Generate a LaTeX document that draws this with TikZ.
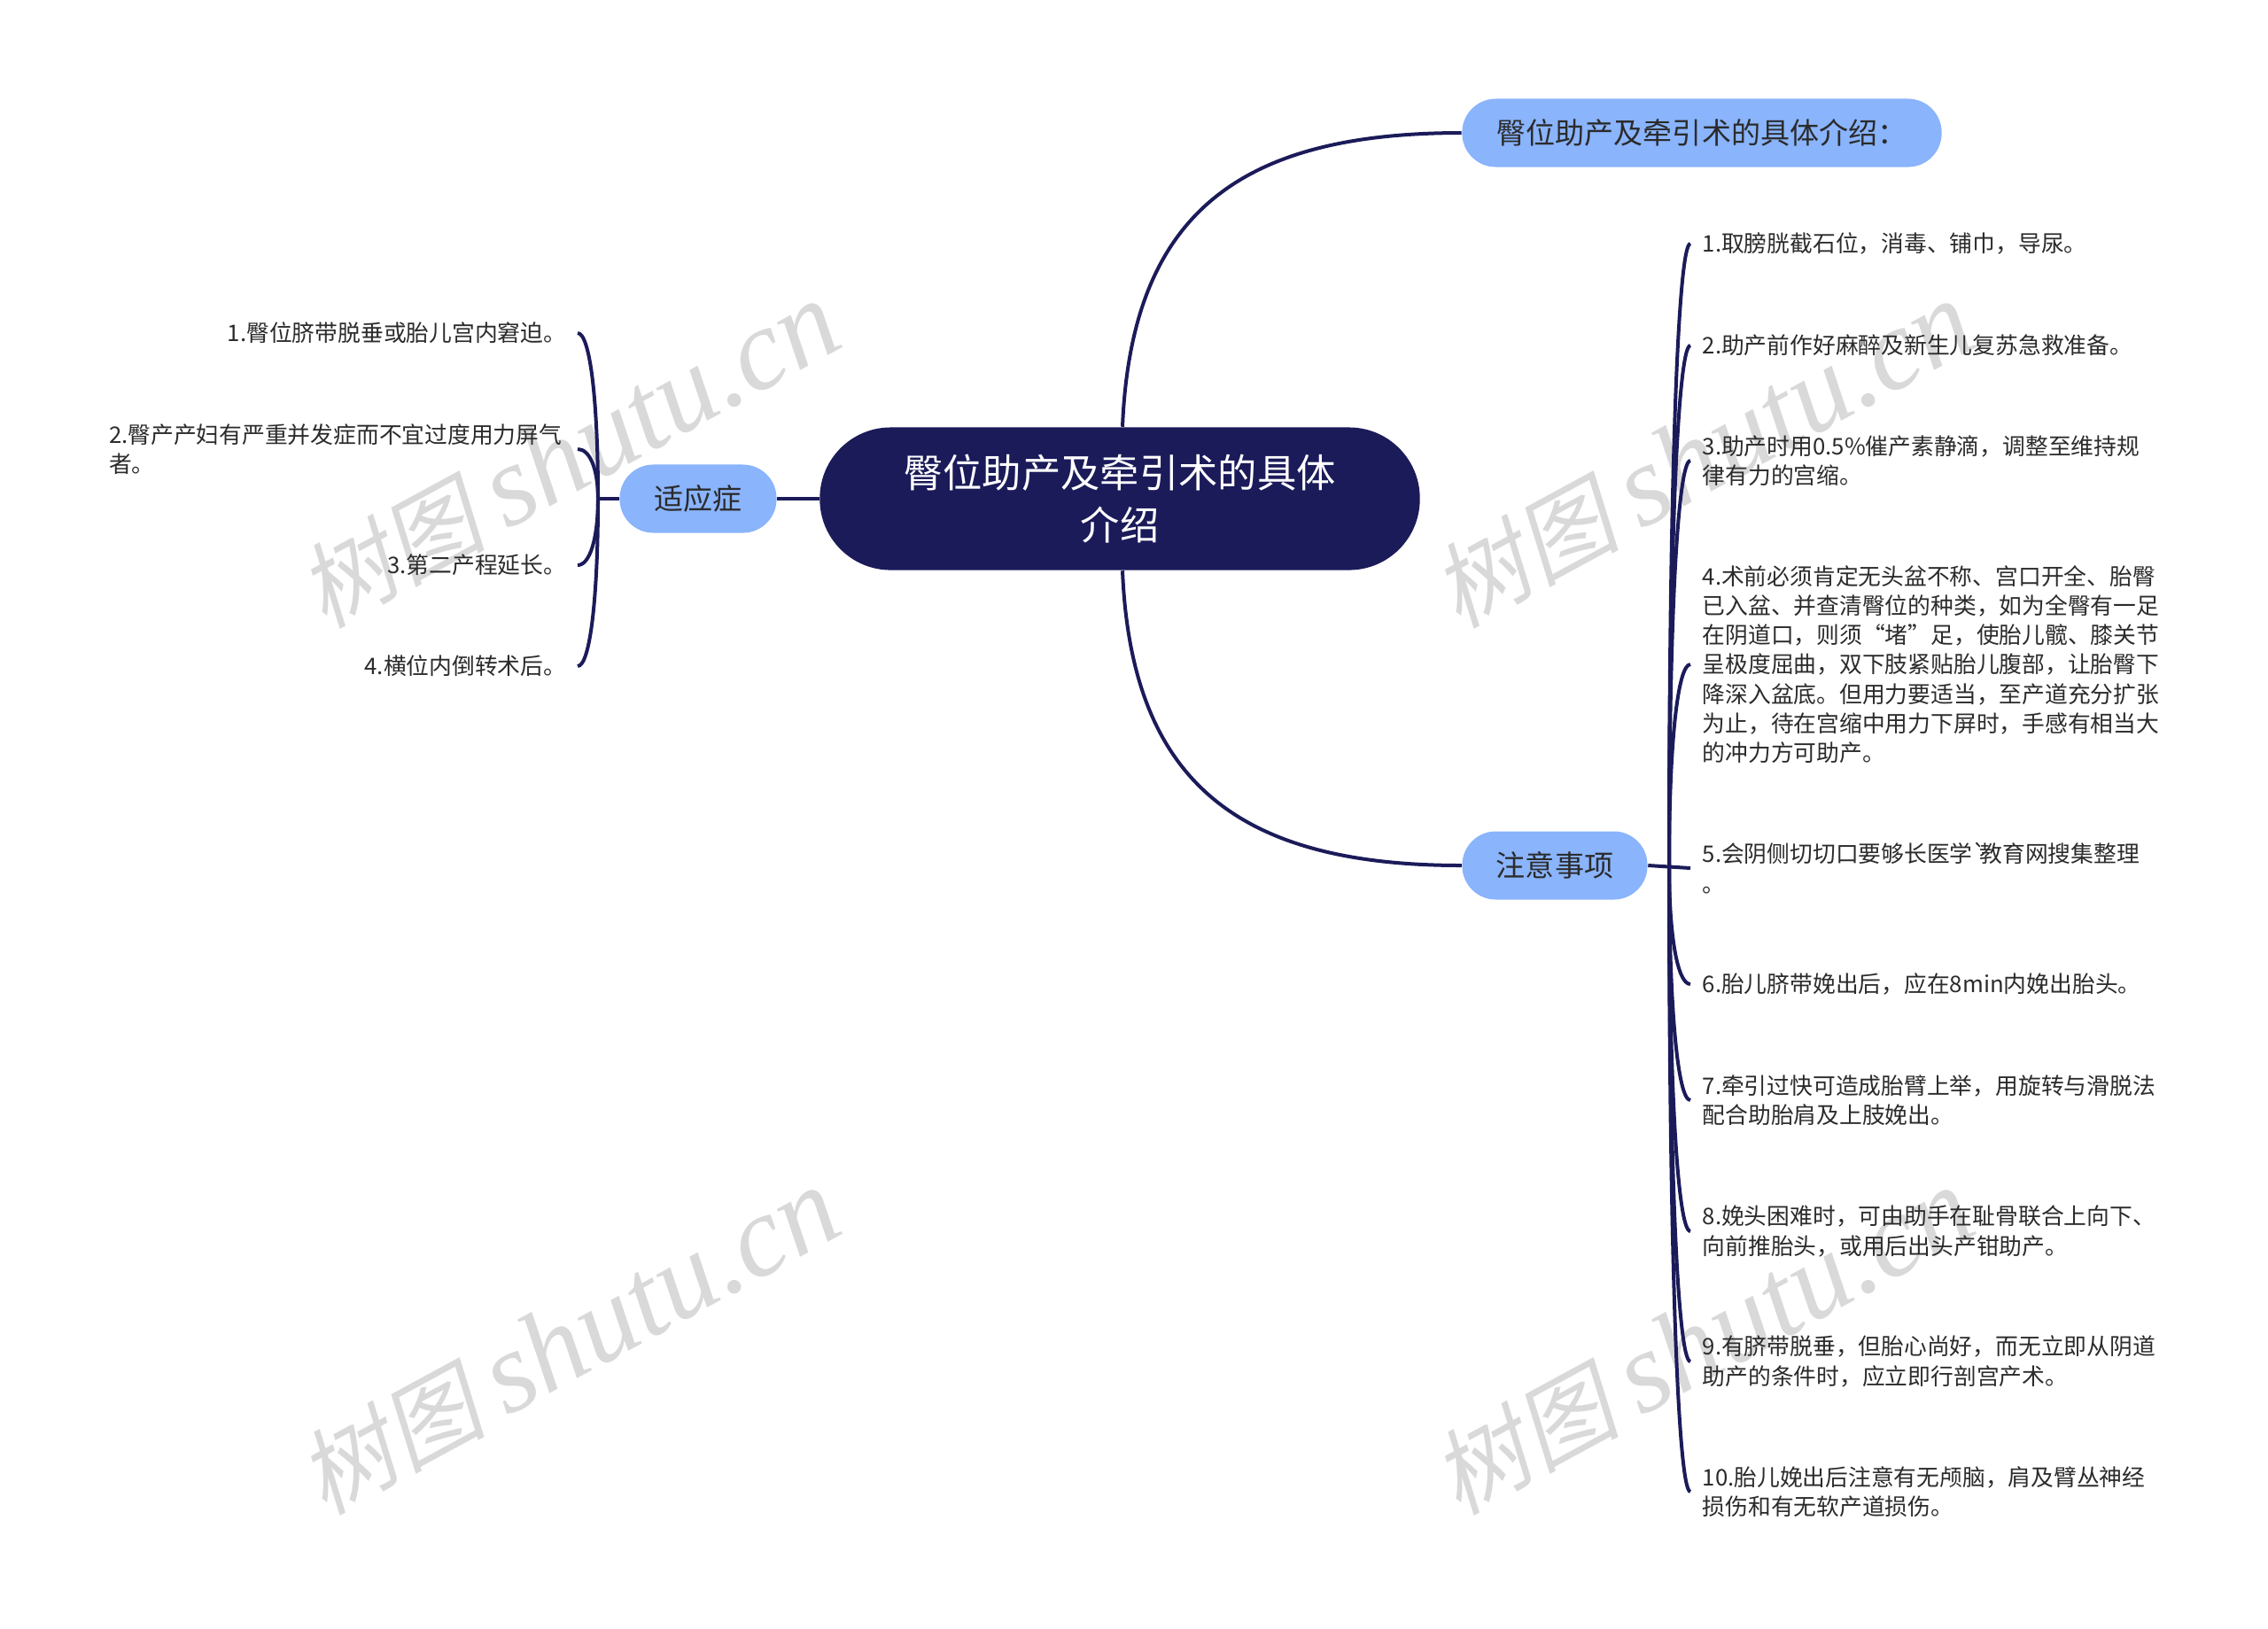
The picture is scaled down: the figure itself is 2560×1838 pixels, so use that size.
\documentclass[tikz,border=0pt]{standalone}
\usepackage{fontspec}
\usetikzlibrary{calc}
\newfontfamily\cnfont{Noto Sans CJK SC}
\newfontfamily\markfont[FakeSlant=0.2]{Noto Sans CJK SC}
\newfontfamily\marklatin[Ligatures=TeX]{Liberation Serif}
\definecolor{navy}{HTML}{1B1B5A}
\definecolor{skyblue}{HTML}{8AB4FC}
\definecolor{inkgray}{HTML}{2B2B2B}
\definecolor{markgray}{HTML}{D9D9D9}

\begin{document}
\begin{tikzpicture}[x=0.01cm,y=-0.01cm]

\tikzset{rootnode/.style = {shape=rectangle,fill=navy,text=white,rounded corners=0.8cm,align=center,inner sep=0,minimum width=6.77cm,minimum height=1.61cm,font=\cnfont\fontsize{12.6}{16.8}\selectfont}}
\tikzset{topic/.style = {shape=rectangle,fill=skyblue,text=inkgray,rounded corners=0.38cm,inner sep=0,minimum height=0.77cm,font=\cnfont\fontsize{9.4}{12}\selectfont}}
\tikzset{leafr/.style = {anchor=west,align=left,inner ysep=0,inner xsep=0.13cm,text=inkgray,font=\cnfont\fontsize{7.33}{9.45}\selectfont}}
\tikzset{leafl/.style = {leafr,anchor=east,inner xsep=0.17cm}}
\tikzset{branch/.style = {draw=navy,line width=0.04cm}}
\tikzset{watermark/.style = {rotate=28.5,text=markgray,font=\fontsize{30}{30}\selectfont}}
\useasboundingbox (0,0) rectangle (2560,1838);

%watermarks
\node[watermark] (wm1) at (642,514) {\markfont 树图 \marklatin\fontsize{37}{37}\selectfont\itshape shutu.cn};
\node[watermark] (wm2) at (1922,514) {\markfont 树图 \marklatin\fontsize{37}{37}\selectfont\itshape shutu.cn};
\node[watermark] (wm3) at (642,1515) {\markfont 树图 \marklatin\fontsize{37}{37}\selectfont\itshape shutu.cn};
\node[watermark] (wm4) at (1922,1515) {\markfont 树图 \marklatin\fontsize{37}{37}\selectfont\itshape shutu.cn};

%main nodes
\node[rootnode] (root) at (1264,563) {臀位助产及牵引术的具体\\介绍};
\node[topic, minimum width=5.41cm] (intro) at (1921,150) {臀位助产及牵引术的具体介绍：};
\node[topic, minimum width=2.09cm] (care) at (1755,977) {注意事项};
\node[topic, minimum width=1.77cm] (indic) at (788,563) {适应症};
\coordinate (rjoint) at (1884,977);
\coordinate (ljoint) at (675,563);

%right side
\node[leafr] (r1) at (1908,275) {1.取膀胱截石位，消毒、铺巾，导尿。};
\node[leafr] (r2) at (1908,390) {2.助产前作好麻醉及新生儿复苏急救准备。};
\node[leafr] (r3) at (1908,520) {3.助产时用0.5\%催产素静滴，调整至维持规\\律有力的宫缩。};
\node[leafr] (r4) at (1908,750) {4.术前必须肯定无头盆不称、宫口开全、胎臀\\已入盆、并查清臀位的种类，如为全臀有一足\\在阴道口，则须“堵”足，使胎儿髋、膝关节\\呈极度屈曲，双下肢紧贴胎儿腹部，让胎臀下\\降深入盆底。但用力要适当，至产道充分扩张\\为止，待在宫缩中用力下屏时，手感有相当大\\的冲力方可助产。};
\node[leafr] (r5) at (1908,980) {5.会阴侧切切口要够长医学`\kern-2.2pt 教育网搜集整理\\。};
\node[leafr] (r6) at (1908,1111) {6.胎儿脐带娩出后，应在8min内娩出胎头。};
\node[leafr] (r7) at (1908,1242) {7.牵引过快可造成胎臂上举，用旋转与滑脱法\\配合助胎肩及上肢娩出。};
\node[leafr] (r8) at (1908,1390) {8.娩头困难时，可由助手在耻骨联合上向下、\\向前推胎头，或用后出头产钳助产。};
\node[leafr] (r9) at (1908,1537) {9.有脐带脱垂，但胎心尚好，而无立即从阴道\\助产的条件时，应立即行剖宫产术。};
\node[leafr] (r10) at (1908,1684) {10.胎儿娩出后注意有无颅脑，肩及臂丛神经\\损伤和有无软产道损伤。};

%left side
\node[leafl, inner xsep=0.12cm] (l1) at (652,376) {1.臀位脐带脱垂或胎儿宫内窘迫。};
\node[leafl] (l2) at (652,507) {2.臀产产妇有严重并发症而不宜过度用力屏气\\者。};
\node[leafl, inner xsep=0.12cm] (l3) at (652,638) {3.第二产程延长。};
\node[leafl, inner xsep=0.12cm] (l4) at (652,752) {4.横位内倒转术后。};

%connectors
\draw[branch] ([xshift=0.03cm]root.north) .. controls (1277,240) and (1400,150) .. (intro.west);
\draw[branch] ([xshift=0.03cm]root.south) .. controls (1277,885) and (1400,977) .. (care.west);
\draw[branch] (root.west) -- (indic.east);
\draw[branch] (indic.west) -- (ljoint);
\draw[branch] (care.east) -- (r5.west);
\foreach \leaf in {r1,r2,r3,r4,r6,r7,r8,r9,r10}
  \draw[branch] (rjoint) .. controls ($(rjoint)!0.6!(rjoint |- \leaf.west)$) and ($(rjoint |- \leaf.west)!0.4!(\leaf.west)$) .. (\leaf.west);
\foreach \leaf in {l1,l2,l3,l4}
  \draw[branch] (ljoint) .. controls ($(ljoint)!0.6!(ljoint |- \leaf.east)$) and ($(ljoint |- \leaf.east)!0.4!(\leaf.east)$) .. (\leaf.east);

\end{tikzpicture}
\end{document}
